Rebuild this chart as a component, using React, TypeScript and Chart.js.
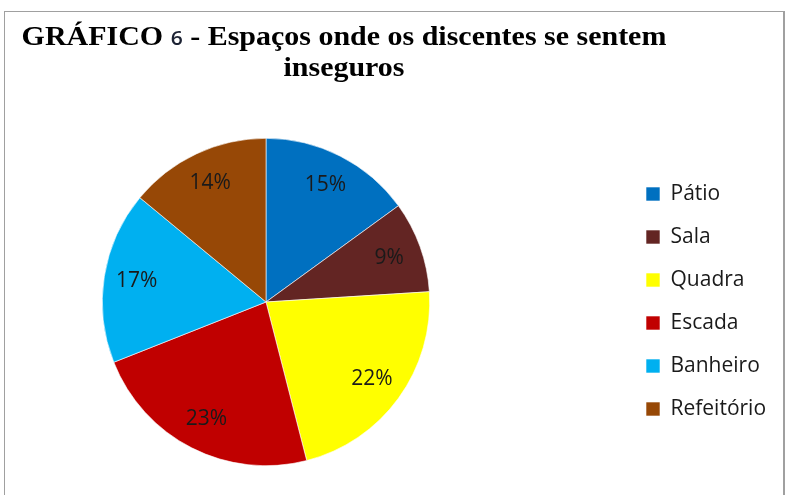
import React, { useEffect, useRef } from "react";
import { Chart, registerables } from "chart.js";

Chart.register(...registerables);

const categories = ["Pátio", "Sala", "Quadra", "Escada", "Banheiro", "Refeitório"];
const values = [15, 9, 22, 23, 17, 14];
const colors = ["#0070C0", "#632523", "#FFFF00", "#C00000", "#00B0F0", "#974806"];
const titleBefore = "GRÁFICO ";
const titleNumber = "6";
const titleAfter = " - Espaços onde os discentes se sentem";
const titleLine2 = "inseguros";

const LEGEND_LEFT = 624;
const LEGEND_TOP = 161.5;

const legendPlacer = {
  id: "legendPlacer",
  afterLayout(chart: any) {
    const lg = chart.legend;
    if (!lg) return;
    lg.left = LEGEND_LEFT;
    lg.right = LEGEND_LEFT + lg.width;
    lg.top = LEGEND_TOP;
    lg.bottom = chart.height;
    lg.height = lg.bottom - lg.top;
  },
};

const sliceLabels = {
  id: "sliceLabels",
  afterDatasetsDraw(chart: any) {
    const ctx = chart.ctx;
    const meta = chart.getDatasetMeta(0);
    const data = chart.data.datasets[0].data;
    ctx.save();
    ctx.font = "21px 'Open Sans'";
    ctx.fillStyle = "#1a1a1a";
    ctx.textAlign = "center";
    ctx.textBaseline = "middle";
    meta.data.forEach((arc: any, i: number) => {
      const p = arc.getProps(["x", "y", "startAngle", "endAngle", "outerRadius"], true);
      const mid = (p.startAngle + p.endAngle) / 2;
      const r = p.outerRadius * 0.8;
      ctx.fillText(data[i] + "%", p.x + Math.cos(mid) * r, p.y + Math.sin(mid) * r);
    });
    ctx.restore();
  },
};

export default function App() {
  const ref = useRef<HTMLCanvasElement | null>(null);
  useEffect(() => {
    if (!ref.current) return;
    const chart = new Chart(ref.current, {
      type: "pie",
      data: {
        labels: categories,
        datasets: [
          {
            data: values,
            backgroundColor: colors,
            borderColor: "#ffffff",
            borderWidth: 0.6,
          },
        ],
      },
      options: {
        animation: false,
        responsive: false,
        maintainAspectRatio: false,
        layout: { padding: { left: 102, top: 138, right: 356, bottom: 29 } },
        plugins: {
          title: { display: false },
          tooltip: { enabled: false },
          legend: {
            display: true,
            position: "chartArea" as any,
            align: "start",
            labels: {
              boxWidth: 14,
              boxHeight: 14,
              padding: 22,
              color: "#1a1a1a",
              font: { family: "'Open Sans'", size: 21 },
            },
          },
        },
      },
      plugins: [legendPlacer, sliceLabels],
    });
    return () => chart.destroy();
  }, []);

  return (
    <div style={{ position: "absolute", left: 0, top: 0, width: 786, height: 495, overflow: "hidden", background: "#fff" }}>
      <div
        style={{
          position: "absolute",
          left: 4,
          top: 11,
          width: 778,
          height: 600,
          borderLeft: "1px solid #a0a0a0",
          borderTop: "1px solid #a0a0a0",
          borderRight: "2px solid #a0a0a0",
        }}
      />
      <canvas ref={ref} width={786} height={495} style={{ position: "absolute", left: 0, top: 0 }} />
      <div
        style={{
          position: "absolute",
          left: 14,
          top: 22,
          width: 660,
          textAlign: "center",
          fontFamily: "'Liberation Serif', 'Times New Roman', serif",
          fontWeight: "bold",
          fontSize: 27,
          lineHeight: "29px",
          color: "#000",
          whiteSpace: "nowrap",
          transform: "scaleX(1.11)",
          transformOrigin: "330px 0",
        }}
      >
        <div>
          {titleBefore}
          <span style={{ fontFamily: "'Open Sans', sans-serif", fontWeight: 600, fontSize: 19, color: "#1c2233" }}>
            {titleNumber}
          </span>
          {titleAfter}
        </div>
        <div>{titleLine2}</div>
      </div>
    </div>
  );
}
